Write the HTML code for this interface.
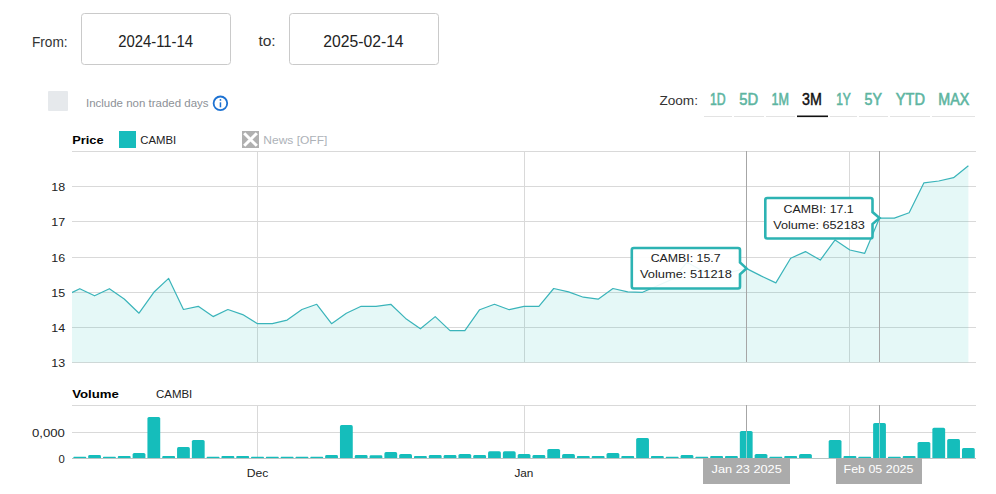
<!DOCTYPE html>
<html><head><meta charset="utf-8"><style>
html,body{margin:0;padding:0;background:#fff;width:996px;height:494px;overflow:hidden}
svg{position:absolute;left:0;top:0;font-family:"Liberation Sans", sans-serif}
text{font-family:"Liberation Sans", sans-serif}
.lab{font-size:14px;fill:#333}
.date{font-size:16px;fill:#222}
.inc{font-size:11.5px;fill:#8d9197}
.zb{font-size:16px;fill:#5db5a1;stroke:#5db5a1;stroke-width:0.6px}
.zb.on{fill:#111;stroke:#111;stroke-width:0.45px}
.ax{font-size:11px;fill:#222}
.b{font-weight:bold;fill:#000}
.tt{font-size:11px;fill:#222}
.cl{font-size:11px;fill:#fff}
</style></head><body>
<svg width="996" height="494" viewBox="0 0 996 494">
<text x="31.90" y="46.6" class="lab" textLength="35.70" lengthAdjust="spacingAndGlyphs">From:</text>
<rect x="81.5" y="13.5" width="149" height="51" rx="3" fill="#fff" stroke="#cacaca"/>
<text x="118.20" y="46.5" class="date" textLength="74.90" lengthAdjust="spacingAndGlyphs">2024-11-14</text>
<text x="258.40" y="46.3" class="lab" textLength="17.30" lengthAdjust="spacingAndGlyphs">to:</text>
<rect x="289.5" y="13.5" width="149" height="51" rx="3" fill="#fff" stroke="#cacaca"/>
<text x="323.30" y="46.5" class="date" textLength="80.30" lengthAdjust="spacingAndGlyphs">2025-02-14</text>

<rect x="48" y="91" width="20" height="20" rx="1" fill="#e6e9ec"/>
<text x="86.00" y="107.1" class="inc" textLength="122.50" lengthAdjust="spacingAndGlyphs">Include non traded days</text>
<circle cx="220.4" cy="103.3" r="6.8" fill="none" stroke="#1d72d2" stroke-width="1.8"/>
<rect x="219.7" y="102.3" width="1.5" height="5" fill="#1d72d2"/>
<circle cx="220.45" cy="99.9" r="0.9" fill="#1d72d2"/>

<text x="659.40" y="104.9" class="lab" style="font-size:13px" textLength="38.60" lengthAdjust="spacingAndGlyphs">Zoom:</text>
<text x="709.90" y="104.9" class="zb" textLength="15.70" lengthAdjust="spacingAndGlyphs">1D</text><rect x="704" y="116" width="28" height="1" fill="#e3e3e3"/><text x="739.20" y="104.9" class="zb" textLength="18.90" lengthAdjust="spacingAndGlyphs">5D</text><rect x="734" y="116" width="30" height="1" fill="#e3e3e3"/><text x="771.40" y="104.9" class="zb" textLength="17.50" lengthAdjust="spacingAndGlyphs">1M</text><rect x="766" y="116" width="29" height="1" fill="#e3e3e3"/><text x="802.10" y="104.9" class="zb on" textLength="19.80" lengthAdjust="spacingAndGlyphs">3M</text><rect x="797" y="115.5" width="31" height="1.6" fill="#111"/><text x="836.20" y="104.9" class="zb" textLength="14.70" lengthAdjust="spacingAndGlyphs">1Y</text><rect x="830" y="116" width="27" height="1" fill="#e3e3e3"/><text x="864.60" y="104.9" class="zb" textLength="17.40" lengthAdjust="spacingAndGlyphs">5Y</text><rect x="859" y="116" width="29" height="1" fill="#e3e3e3"/><text x="895.80" y="104.9" class="zb" textLength="29.20" lengthAdjust="spacingAndGlyphs">YTD</text><rect x="890" y="116" width="40" height="1" fill="#e3e3e3"/><text x="938.30" y="104.9" class="zb" textLength="31.00" lengthAdjust="spacingAndGlyphs">MAX</text><rect x="932" y="116" width="43" height="1" fill="#e3e3e3"/>

<text x="72.20" y="143.9" class="ax b" textLength="31.40" lengthAdjust="spacingAndGlyphs">Price</text>
<rect x="119" y="131" width="17" height="17" fill="#17bcbc"/>
<text x="140.30" y="144" class="ax" textLength="35.90" lengthAdjust="spacingAndGlyphs">CAMBI</text>
<rect x="242" y="131" width="17" height="17" fill="#b0b0b0"/>
<svg x="242" y="131" width="17" height="17" viewBox="242 131 17 17"><path d="M244.2,133.2 L256.8,145.8 M256.8,133.2 L244.2,145.8" stroke="#fff" stroke-width="3"/></svg>
<text x="263.30" y="143.9" class="ax" style="fill:#adb2b8" textLength="64.00" lengthAdjust="spacingAndGlyphs">News [OFF]</text>

<g fill="#d9d9d9"><rect x="72" y="151" width="904" height="1"/><rect x="72" y="186" width="904" height="1"/><rect x="72" y="221" width="904" height="1"/><rect x="72" y="257" width="904" height="1"/><rect x="72" y="292" width="904" height="1"/><rect x="72" y="327" width="904" height="1"/><rect x="72" y="362" width="904" height="1"/><rect x="257" y="151" width="1" height="211"/><rect x="257" y="405" width="1" height="53"/><rect x="524" y="151" width="1" height="211"/><rect x="524" y="405" width="1" height="53"/><rect x="849" y="151" width="1" height="211"/><rect x="849" y="405" width="1" height="53"/></g>
<svg x="72" y="151" width="903" height="212" viewBox="72 151 903 212" style="overflow:hidden"><path d="M64.97,295.90 L79.78,288.70 L94.59,295.80 L109.40,288.70 L124.21,299.00 L139.02,313.20 L153.83,292.30 L168.64,278.40 L183.45,309.50 L198.26,306.30 L213.07,316.60 L227.88,309.50 L242.69,314.60 L257.50,323.70 L272.31,323.70 L287.12,320.10 L301.93,309.50 L316.74,304.30 L331.55,323.70 L346.36,313.20 L361.17,306.30 L375.98,306.30 L390.79,304.30 L405.60,318.40 L420.41,328.80 L435.22,316.60 L450.03,330.60 L464.84,330.60 L479.65,309.70 L494.46,304.30 L509.27,309.70 L524.08,306.30 L538.89,306.30 L553.70,288.50 L568.51,291.90 L583.32,297.20 L598.13,299.20 L612.94,288.50 L627.75,291.90 L642.56,292.30 L657.37,285.80 L672.18,279.30 L686.99,262.30 L701.80,270.50 L716.61,272.00 L731.42,272.00 L746.23,268.40 L761.04,275.90 L775.85,282.90 L790.66,258.20 L805.47,251.60 L820.28,260.10 L835.09,239.90 L849.90,250.00 L864.71,253.30 L879.52,218.10 L894.33,218.10 L909.14,212.80 L923.95,182.80 L938.76,181.00 L953.57,177.70 L968.38,165.70 L968.38,362.5 L64.97,362.5 Z" fill="rgba(26,190,182,0.115)"/></svg>
<g fill="#a6a6a6"><rect x="746" y="151" width="1" height="211"/><rect x="879" y="151" width="1" height="211"/></g>
<svg x="72" y="151" width="903" height="212" viewBox="72 151 903 212" style="overflow:hidden">
<path d="M64.97,295.90 L79.78,288.70 L94.59,295.80 L109.40,288.70 L124.21,299.00 L139.02,313.20 L153.83,292.30 L168.64,278.40 L183.45,309.50 L198.26,306.30 L213.07,316.60 L227.88,309.50 L242.69,314.60 L257.50,323.70 L272.31,323.70 L287.12,320.10 L301.93,309.50 L316.74,304.30 L331.55,323.70 L346.36,313.20 L361.17,306.30 L375.98,306.30 L390.79,304.30 L405.60,318.40 L420.41,328.80 L435.22,316.60 L450.03,330.60 L464.84,330.60 L479.65,309.70 L494.46,304.30 L509.27,309.70 L524.08,306.30 L538.89,306.30 L553.70,288.50 L568.51,291.90 L583.32,297.20 L598.13,299.20 L612.94,288.50 L627.75,291.90 L642.56,292.30 L657.37,285.80 L672.18,279.30 L686.99,262.30 L701.80,270.50 L716.61,272.00 L731.42,272.00 L746.23,268.40 L761.04,275.90 L775.85,282.90 L790.66,258.20 L805.47,251.60 L820.28,260.10 L835.09,239.90 L849.90,250.00 L864.71,253.30 L879.52,218.10 L894.33,218.10 L909.14,212.80 L923.95,182.80 L938.76,181.00 L953.57,177.70 L968.38,165.70" fill="none" stroke="#3ab4ba" stroke-width="1.2" stroke-linejoin="round"/>
</svg>
<text x="51.20" y="190.9" class="ax" textLength="13.90" lengthAdjust="spacingAndGlyphs">18</text><text x="51.20" y="225.9" class="ax" textLength="13.90" lengthAdjust="spacingAndGlyphs">17</text><text x="51.20" y="261.9" class="ax" textLength="13.90" lengthAdjust="spacingAndGlyphs">16</text><text x="51.20" y="296.9" class="ax" textLength="13.90" lengthAdjust="spacingAndGlyphs">15</text><text x="51.20" y="331.9" class="ax" textLength="13.90" lengthAdjust="spacingAndGlyphs">14</text><text x="51.20" y="366.9" class="ax" textLength="13.90" lengthAdjust="spacingAndGlyphs">13</text>
<path d="M633.8,248 L738,248 Q740,248 740,250 L740,262.4 L746.5,268.4 L740,274.4 L740,286.5 Q740,288.5 738,288.5 L633.8,288.5 Q631.8,288.5 631.8,286.5 L631.8,250 Q631.8,248 633.8,248 Z" fill="rgba(255,255,255,0.9)" stroke="#2db3b3" stroke-width="2.6"/><text x="650.70" y="261.7" class="tt" textLength="69.90" lengthAdjust="spacingAndGlyphs">CAMBI: 15.7</text><text x="639.90" y="277.6" class="tt" textLength="92.00" lengthAdjust="spacingAndGlyphs">Volume: 511218</text><path d="M767.3,198 L870.5,198 Q872.5,198 872.5,200 L872.5,212.1 L879.5,218.1 L872.5,224.1 L872.5,236.5 Q872.5,238.5 870.5,238.5 L767.3,238.5 Q765.3,238.5 765.3,236.5 L765.3,200 Q765.3,198 767.3,198 Z" fill="rgba(255,255,255,0.9)" stroke="#2db3b3" stroke-width="2.6"/><text x="783.60" y="212.8" class="tt" textLength="70.10" lengthAdjust="spacingAndGlyphs">CAMBI: 17.1</text><text x="773.20" y="228.7" class="tt" textLength="91.60" lengthAdjust="spacingAndGlyphs">Volume: 652183</text>

<text x="72.20" y="398.2" class="ax b" textLength="46.70" lengthAdjust="spacingAndGlyphs">Volume</text>
<text x="156.00" y="398" class="ax" textLength="36.30" lengthAdjust="spacingAndGlyphs">CAMBI</text>
<g fill="#d9d9d9"><rect x="72" y="405" width="904" height="1"/><rect x="72" y="432" width="904" height="1"/></g>
<svg x="32" y="420" width="40" height="30" viewBox="32 420 40 30"><text x="17.40" y="436.7" class="ax" textLength="47.50" lengthAdjust="spacingAndGlyphs">500,000</text></svg>
<text x="58.50" y="462.9" class="ax" textLength="6.30" lengthAdjust="spacingAndGlyphs">0</text>
<svg x="72" y="400" width="903" height="60" viewBox="72 400 903 60" style="overflow:hidden"><g fill="#15bdbb">
<path d="M73.38,458 L73.38,457.35 Q73.38,456.70 74.03,456.70 L85.53,456.70 Q86.18,456.70 86.18,457.35 L86.18,458 Z"/>
<path d="M88.19,458 L88.19,456.55 Q88.19,455.10 89.64,455.10 L99.54,455.10 Q100.99,455.10 100.99,456.55 L100.99,458 Z"/>
<path d="M103.00,458 L103.00,457.35 Q103.00,456.70 103.65,456.70 L115.15,456.70 Q115.80,456.70 115.80,457.35 L115.80,458 Z"/>
<path d="M117.81,458 L117.81,457.05 Q117.81,456.10 118.76,456.10 L129.66,456.10 Q130.61,456.10 130.61,457.05 L130.61,458 Z"/>
<path d="M132.62,458 L132.62,454.50 Q132.62,452.90 134.22,452.90 L143.82,452.90 Q145.42,452.90 145.42,454.50 L145.42,458 Z"/>
<path d="M147.43,458 L147.43,418.60 Q147.43,417.00 149.03,417.00 L158.63,417.00 Q160.23,417.00 160.23,418.60 L160.23,458 Z"/>
<path d="M162.24,458 L162.24,457.05 Q162.24,456.10 163.19,456.10 L174.09,456.10 Q175.04,456.10 175.04,457.05 L175.04,458 Z"/>
<path d="M177.05,458 L177.05,448.70 Q177.05,447.10 178.65,447.10 L188.25,447.10 Q189.85,447.10 189.85,448.70 L189.85,458 Z"/>
<path d="M191.86,458 L191.86,441.60 Q191.86,440.00 193.46,440.00 L203.06,440.00 Q204.66,440.00 204.66,441.60 L204.66,458 Z"/>
<path d="M206.67,458 L206.67,457.35 Q206.67,456.70 207.32,456.70 L218.82,456.70 Q219.47,456.70 219.47,457.35 L219.47,458 Z"/>
<path d="M221.48,458 L221.48,457.05 Q221.48,456.10 222.43,456.10 L233.33,456.10 Q234.28,456.10 234.28,457.05 L234.28,458 Z"/>
<path d="M236.29,458 L236.29,457.05 Q236.29,456.10 237.24,456.10 L248.14,456.10 Q249.09,456.10 249.09,457.05 L249.09,458 Z"/>
<path d="M251.10,458 L251.10,457.35 Q251.10,456.70 251.75,456.70 L263.25,456.70 Q263.90,456.70 263.90,457.35 L263.90,458 Z"/>
<path d="M265.91,458 L265.91,457.35 Q265.91,456.70 266.56,456.70 L278.06,456.70 Q278.71,456.70 278.71,457.35 L278.71,458 Z"/>
<path d="M280.72,458 L280.72,457.35 Q280.72,456.70 281.37,456.70 L292.87,456.70 Q293.52,456.70 293.52,457.35 L293.52,458 Z"/>
<path d="M295.53,458 L295.53,457.35 Q295.53,456.70 296.18,456.70 L307.68,456.70 Q308.33,456.70 308.33,457.35 L308.33,458 Z"/>
<path d="M310.34,458 L310.34,457.35 Q310.34,456.70 310.99,456.70 L322.49,456.70 Q323.14,456.70 323.14,457.35 L323.14,458 Z"/>
<path d="M325.15,458 L325.15,456.55 Q325.15,455.10 326.60,455.10 L336.50,455.10 Q337.95,455.10 337.95,456.55 L337.95,458 Z"/>
<path d="M339.96,458 L339.96,426.70 Q339.96,425.10 341.56,425.10 L351.16,425.10 Q352.76,425.10 352.76,426.70 L352.76,458 Z"/>
<path d="M354.77,458 L354.77,456.55 Q354.77,455.10 356.22,455.10 L366.12,455.10 Q367.57,455.10 367.57,456.55 L367.57,458 Z"/>
<path d="M369.58,458 L369.58,456.65 Q369.58,455.30 370.93,455.30 L381.03,455.30 Q382.38,455.30 382.38,456.65 L382.38,458 Z"/>
<path d="M384.39,458 L384.39,453.70 Q384.39,452.10 385.99,452.10 L395.59,452.10 Q397.19,452.10 397.19,453.70 L397.19,458 Z"/>
<path d="M399.20,458 L399.20,455.60 Q399.20,454.00 400.80,454.00 L410.40,454.00 Q412.00,454.00 412.00,455.60 L412.00,458 Z"/>
<path d="M414.01,458 L414.01,457.05 Q414.01,456.10 414.96,456.10 L425.86,456.10 Q426.81,456.10 426.81,457.05 L426.81,458 Z"/>
<path d="M428.82,458 L428.82,456.55 Q428.82,455.10 430.27,455.10 L440.17,455.10 Q441.62,455.10 441.62,456.55 L441.62,458 Z"/>
<path d="M443.63,458 L443.63,456.55 Q443.63,455.10 445.08,455.10 L454.98,455.10 Q456.43,455.10 456.43,456.55 L456.43,458 Z"/>
<path d="M458.44,458 L458.44,455.60 Q458.44,454.00 460.04,454.00 L469.64,454.00 Q471.24,454.00 471.24,455.60 L471.24,458 Z"/>
<path d="M473.25,458 L473.25,456.55 Q473.25,455.10 474.70,455.10 L484.60,455.10 Q486.05,455.10 486.05,456.55 L486.05,458 Z"/>
<path d="M488.06,458 L488.06,452.90 Q488.06,451.30 489.66,451.30 L499.26,451.30 Q500.86,451.30 500.86,452.90 L500.86,458 Z"/>
<path d="M502.87,458 L502.87,452.90 Q502.87,451.30 504.47,451.30 L514.07,451.30 Q515.67,451.30 515.67,452.90 L515.67,458 Z"/>
<path d="M517.68,458 L517.68,455.60 Q517.68,454.00 519.28,454.00 L528.88,454.00 Q530.48,454.00 530.48,455.60 L530.48,458 Z"/>
<path d="M532.49,458 L532.49,456.55 Q532.49,455.10 533.94,455.10 L543.84,455.10 Q545.29,455.10 545.29,456.55 L545.29,458 Z"/>
<path d="M547.30,458 L547.30,450.50 Q547.30,448.90 548.90,448.90 L558.50,448.90 Q560.10,448.90 560.10,450.50 L560.10,458 Z"/>
<path d="M562.11,458 L562.11,455.60 Q562.11,454.00 563.71,454.00 L573.31,454.00 Q574.91,454.00 574.91,455.60 L574.91,458 Z"/>
<path d="M576.92,458 L576.92,457.05 Q576.92,456.10 577.87,456.10 L588.77,456.10 Q589.72,456.10 589.72,457.05 L589.72,458 Z"/>
<path d="M591.73,458 L591.73,457.05 Q591.73,456.10 592.68,456.10 L603.58,456.10 Q604.53,456.10 604.53,457.05 L604.53,458 Z"/>
<path d="M606.54,458 L606.54,454.50 Q606.54,452.90 608.14,452.90 L617.74,452.90 Q619.34,452.90 619.34,454.50 L619.34,458 Z"/>
<path d="M621.35,458 L621.35,457.05 Q621.35,456.10 622.30,456.10 L633.20,456.10 Q634.15,456.10 634.15,457.05 L634.15,458 Z"/>
<path d="M636.16,458 L636.16,439.50 Q636.16,437.90 637.76,437.90 L647.36,437.90 Q648.96,437.90 648.96,439.50 L648.96,458 Z"/>
<path d="M650.97,458 L650.97,457.05 Q650.97,456.10 651.92,456.10 L662.82,456.10 Q663.77,456.10 663.77,457.05 L663.77,458 Z"/>
<path d="M665.78,458 L665.78,457.35 Q665.78,456.70 666.43,456.70 L677.93,456.70 Q678.58,456.70 678.58,457.35 L678.58,458 Z"/>
<path d="M680.59,458 L680.59,456.55 Q680.59,455.10 682.04,455.10 L691.94,455.10 Q693.39,455.10 693.39,456.55 L693.39,458 Z"/>
<path d="M695.40,458 L695.40,457.35 Q695.40,456.70 696.05,456.70 L707.55,456.70 Q708.20,456.70 708.20,457.35 L708.20,458 Z"/>
<path d="M710.21,458 L710.21,457.05 Q710.21,456.10 711.16,456.10 L722.06,456.10 Q723.01,456.10 723.01,457.05 L723.01,458 Z"/>
<path d="M725.02,458 L725.02,457.05 Q725.02,456.10 725.97,456.10 L736.87,456.10 Q737.82,456.10 737.82,457.05 L737.82,458 Z"/>
<path d="M739.83,458 L739.83,432.60 Q739.83,431.00 741.43,431.00 L751.03,431.00 Q752.63,431.00 752.63,432.60 L752.63,458 Z"/>
<path d="M754.64,458 L754.64,455.60 Q754.64,454.00 756.24,454.00 L765.84,454.00 Q767.44,454.00 767.44,455.60 L767.44,458 Z"/>
<path d="M769.45,458 L769.45,457.35 Q769.45,456.70 770.10,456.70 L781.60,456.70 Q782.25,456.70 782.25,457.35 L782.25,458 Z"/>
<path d="M784.26,458 L784.26,457.05 Q784.26,456.10 785.21,456.10 L796.11,456.10 Q797.06,456.10 797.06,457.05 L797.06,458 Z"/>
<path d="M799.07,458 L799.07,455.60 Q799.07,454.00 800.67,454.00 L810.27,454.00 Q811.87,454.00 811.87,455.60 L811.87,458 Z"/>
<path d="M828.69,458 L828.69,441.60 Q828.69,440.00 830.29,440.00 L839.89,440.00 Q841.49,440.00 841.49,441.60 L841.49,458 Z"/>
<path d="M843.50,458 L843.50,457.05 Q843.50,456.10 844.45,456.10 L855.35,456.10 Q856.30,456.10 856.30,457.05 L856.30,458 Z"/>
<path d="M858.31,458 L858.31,457.35 Q858.31,456.70 858.96,456.70 L870.46,456.70 Q871.11,456.70 871.11,457.35 L871.11,458 Z"/>
<path d="M873.12,458 L873.12,424.60 Q873.12,423.00 874.72,423.00 L884.32,423.00 Q885.92,423.00 885.92,424.60 L885.92,458 Z"/>
<path d="M887.93,458 L887.93,457.35 Q887.93,456.70 888.58,456.70 L900.08,456.70 Q900.73,456.70 900.73,457.35 L900.73,458 Z"/>
<path d="M902.74,458 L902.74,457.05 Q902.74,456.10 903.69,456.10 L914.59,456.10 Q915.54,456.10 915.54,457.05 L915.54,458 Z"/>
<path d="M917.55,458 L917.55,443.60 Q917.55,442.00 919.15,442.00 L928.75,442.00 Q930.35,442.00 930.35,443.60 L930.35,458 Z"/>
<path d="M932.36,458 L932.36,429.40 Q932.36,427.80 933.96,427.80 L943.56,427.80 Q945.16,427.80 945.16,429.40 L945.16,458 Z"/>
<path d="M947.17,458 L947.17,440.70 Q947.17,439.10 948.77,439.10 L958.37,439.10 Q959.97,439.10 959.97,440.70 L959.97,458 Z"/>
<path d="M961.98,458 L961.98,449.70 Q961.98,448.10 963.58,448.10 L973.18,448.10 Q974.78,448.10 974.78,449.70 L974.78,458 Z"/>
</g></svg>
<g fill="#a6a6a6"><rect x="746" y="405" width="1" height="53"/><rect x="879" y="405" width="1" height="53"/></g><rect x="746" y="432" width="1" height="26" fill="#8fd6d5"/><rect x="879" y="424" width="1" height="34" fill="#8fd6d5"/>
<rect x="72" y="458" width="904" height="1" fill="#b8c4c4"/>
<text x="246.80" y="476.7" class="ax" textLength="21.60" lengthAdjust="spacingAndGlyphs">Dec</text>
<text x="514.40" y="476.7" class="ax" textLength="19.00" lengthAdjust="spacingAndGlyphs">Jan</text>
<rect x="703" y="458" width="87" height="26" fill="#ababab"/>
<text x="711.50" y="472.7" class="cl" textLength="70.30" lengthAdjust="spacingAndGlyphs">Jan 23 2025</text>
<rect x="836" y="458" width="86" height="26" fill="#ababab"/>
<text x="843.60" y="472.7" class="cl" textLength="69.80" lengthAdjust="spacingAndGlyphs">Feb 05 2025</text>
</svg>
</body></html>
